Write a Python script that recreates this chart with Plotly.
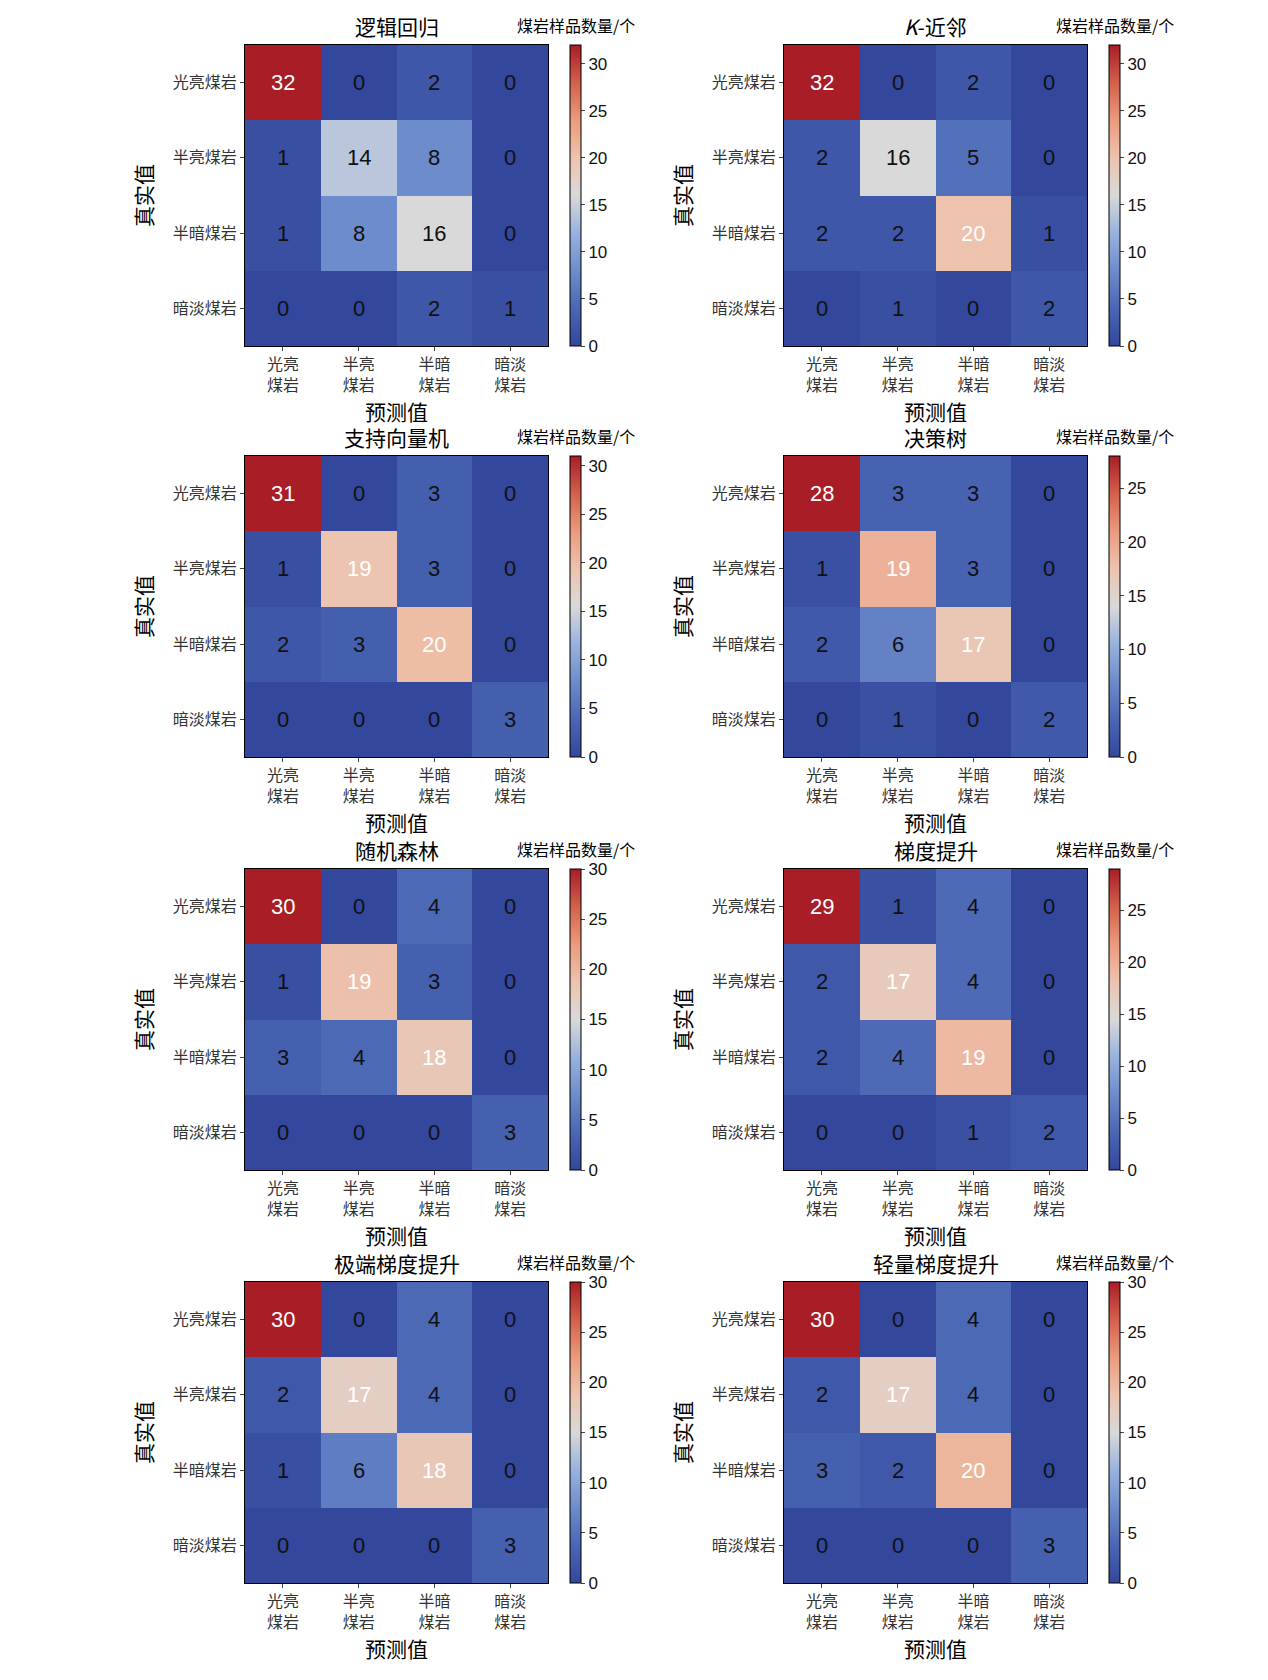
import plotly.graph_objects as go

titles = ["逻辑回归", "<i>K</i>-近邻", "支持向量机", "决策树", "随机森林", "梯度提升", "极端梯度提升", "轻量梯度提升"]
row_labels = ["光亮煤岩", "半亮煤岩", "半暗煤岩", "暗淡煤岩"]
col_labels = ["光亮<br>煤岩", "半亮<br>煤岩", "半暗<br>煤岩", "暗淡<br>煤岩"]
m_lr = [[32, 0, 2, 0], [1, 14, 8, 0], [1, 8, 16, 0], [0, 0, 2, 1]]
m_knn = [[32, 0, 2, 0], [2, 16, 5, 0], [2, 2, 20, 1], [0, 1, 0, 2]]
m_svm = [[31, 0, 3, 0], [1, 19, 3, 0], [2, 3, 20, 0], [0, 0, 0, 3]]
m_dt = [[28, 3, 3, 0], [1, 19, 3, 0], [2, 6, 17, 0], [0, 1, 0, 2]]
m_rf = [[30, 0, 4, 0], [1, 19, 3, 0], [3, 4, 18, 0], [0, 0, 0, 3]]
m_gb = [[29, 1, 4, 0], [2, 17, 4, 0], [2, 4, 19, 0], [0, 0, 1, 2]]
m_xgb = [[30, 0, 4, 0], [2, 17, 4, 0], [1, 6, 18, 0], [0, 0, 0, 3]]
m_lgb = [[30, 0, 4, 0], [2, 17, 4, 0], [3, 2, 20, 0], [0, 0, 0, 3]]
mats = [m_lr, m_knn, m_svm, m_dt, m_rf, m_gb, m_xgb, m_lgb]

W, H = 1268, 1680
OFF = 7
coolwarm = [[0.0, "#33479c"], [0.125, "#4a66b4"], [0.25, "#6d8ccb"], [0.375, "#98b2de"],
            [0.5, "#d9d9d9"], [0.625, "#edc3ae"], [0.75, "#eb9b7c"], [0.875, "#d3604b"], [1.0, "#a81d26"]]
CJK = "Noto Sans CJK SC"

col_x = [(244, 547, 569), (783, 1086, 1108)]
row_y = [(44, 345), (455, 756), (868, 1169), (1281, 1582)]

fig = go.Figure()
ann = []
for i, m in enumerate(mats):
    r, c = divmod(i, 2)
    x0, x1, cbx = [v - OFF for v in col_x[c]]
    yt, yb = [v - OFF for v in row_y[r]]
    xa = "x" if i == 0 else f"x{i+1}"
    ya = "y" if i == 0 else f"y{i+1}"
    zmax = max(max(rw) for rw in m)
    txtcol = [["white" if v > 16 else "#111" for v in rw] for rw in m]
    fig.add_trace(go.Heatmap(
        z=m, x=col_labels, y=row_labels, xaxis=xa, yaxis=ya,
        zmin=0, zmax=zmax, colorscale=coolwarm, hoverinfo="skip",
        colorbar=dict(x=cbx / W, xanchor="left", xpad=0, ypad=0, y=1 - yb / H, yanchor="bottom",
                      len=(yb - yt) / H, lenmode="fraction", thickness=11,
                      outlinewidth=1, outlinecolor="black",
                      tickvals=[0, 5, 10, 15, 20, 25, 30], ticks="outside", ticklen=4,
                      tickfont=dict(size=17, family="Liberation Sans", color="#111")),
        showscale=True))
    for ri, rw in enumerate(m):
        for ci, v in enumerate(rw):
            ann.append(dict(x=col_labels[ci], y=row_labels[ri], xref=xa, yref=ya, text=str(v),
                            showarrow=False, font=dict(size=22, family="Liberation Sans", color=txtcol[ri][ci])))
    lay_x = "xaxis" if i == 0 else f"xaxis{i+1}"
    lay_y = "yaxis" if i == 0 else f"yaxis{i+1}"
    fig.layout[lay_x] = dict(domain=[x0 / W, x1 / W], anchor=ya, ticks="outside", ticklen=4,
                            tickfont=dict(size=16, family=CJK, color="#333"),
                            title=dict(text="预测值", font=dict(size=21, family=CJK, color="black"), standoff=0),
                            showline=True, linecolor="black", mirror=True, fixedrange=True)
    fig.layout[lay_y] = dict(domain=[1 - yb / H, 1 - yt / H], anchor=xa, autorange="reversed",
                            ticks="outside", ticklen=4, tickfont=dict(size=16, family=CJK, color="#333"),
                            title=dict(text="真实值", font=dict(size=21, family=CJK, color="black"), standoff=14),
                            showline=True, linecolor="black", mirror=True, fixedrange=True)
    ann.append(dict(x=(x0 + x1) / 2 / W, y=1 - (yt - 2) / H, xref="paper", yref="paper",
                    xanchor="center", yanchor="bottom", showarrow=False, text=titles[i],
                    font=dict(size=21, family=CJK, color="black")))
    ann.append(dict(x=(cbx + 6) / W, y=1 - (yt - 6) / H, xref="paper", yref="paper",
                    xanchor="center", yanchor="bottom", showarrow=False, text="煤岩样品数量/个",
                    font=dict(size=16, family=CJK, color="black")))

fig.update_layout(width=W, height=H, margin=dict(l=0, r=0, t=0, b=0),
                  plot_bgcolor="white", paper_bgcolor="white", annotations=ann, showlegend=False)
fig.write_html("out.html")
